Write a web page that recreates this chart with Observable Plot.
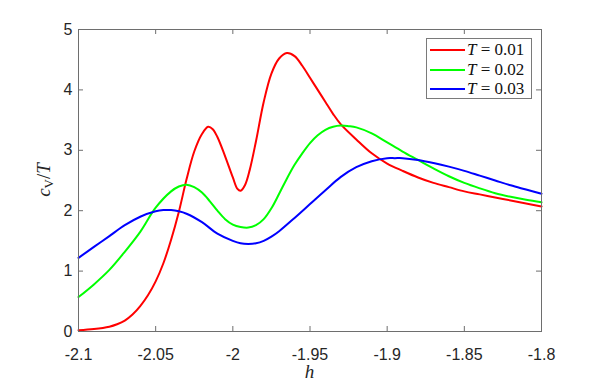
<!DOCTYPE html>
<html>
<head>
<meta charset="utf-8">
<script src="https://cdn.jsdelivr.net/npm/d3@7"></script>
<script src="https://cdn.jsdelivr.net/npm/@observablehq/plot@0.6"></script>
<style>
  body { margin: 0; background: #fff; }
  #wrap { position: relative; width: 598px; height: 387px; }
  #legend {
    position: absolute; left: 426px; top: 38px; width: 106px; height: 61px;
    border: 1px solid #7a7a7a; background: #fff; box-sizing: border-box;
    font-family: "Liberation Serif", serif; font-size: 17px; color: #111;
  }
  .row { position: absolute; left: 0; height: 20px; display: flex; align-items: center; white-space: nowrap; }
  .sw { width: 35px; height: 2px; margin-left: 3px; margin-right: 2px; flex: none; }
  .lab { white-space: pre; }
  .lab i { font-style: italic; }
</style>
</head>
<body>
<div id="wrap"><div id="legend"></div></div>
<script>
// ---- data ----
const seriesT = [0.01, 0.02, 0.03];
const seriesLabels = ["T = 0.01", "T = 0.02", "T = 0.03"];
const seriesColors = ["#ff0000", "#00ff00", "#0000ff"];

const h01 = [-2.1, -2.09, -2.08, -2.075, -2.07, -2.065, -2.06, -2.055, -2.05, -2.045, -2.04, -2.035, -2.03, -2.025, -2.02, -2.016, -2.013, -2.01, -2.005, -2.0, -1.997, -1.995, -1.992, -1.989, -1.985, -1.98, -1.975, -1.97, -1.965, -1.96, -1.955, -1.95, -1.945, -1.94, -1.935, -1.93, -1.92, -1.91, -1.9, -1.89, -1.88, -1.87, -1.86, -1.85, -1.84, -1.83, -1.82, -1.81, -1.8];
const c01 = [0.02, 0.04, 0.08, 0.12, 0.18, 0.28, 0.42, 0.60, 0.83, 1.13, 1.52, 1.98, 2.52, 2.98, 3.27, 3.39, 3.35, 3.22, 2.90, 2.55, 2.36, 2.33, 2.43, 2.68, 3.15, 3.80, 4.27, 4.52, 4.61, 4.56, 4.40, 4.20, 4.00, 3.80, 3.60, 3.43, 3.18, 2.95, 2.78, 2.66, 2.55, 2.46, 2.39, 2.32, 2.27, 2.22, 2.17, 2.12, 2.07];

const h02 = [-2.1, -2.09, -2.08, -2.07, -2.06, -2.05, -2.04, -2.035, -2.03, -2.025, -2.02, -2.015, -2.01, -2.005, -2.0, -1.995, -1.99, -1.985, -1.98, -1.975, -1.97, -1.965, -1.96, -1.955, -1.95, -1.945, -1.94, -1.935, -1.93, -1.925, -1.92, -1.91, -1.9, -1.89, -1.88, -1.87, -1.86, -1.85, -1.84, -1.83, -1.82, -1.81, -1.8];
const c02 = [0.57, 0.78, 1.02, 1.32, 1.65, 2.05, 2.32, 2.40, 2.43, 2.39, 2.30, 2.16, 2.00, 1.86, 1.77, 1.73, 1.72, 1.76, 1.86, 2.04, 2.28, 2.53, 2.76, 2.95, 3.12, 3.25, 3.34, 3.39, 3.41, 3.40, 3.38, 3.28, 3.13, 2.98, 2.84, 2.70, 2.57, 2.46, 2.37, 2.29, 2.23, 2.18, 2.14];

const h03 = [-2.1, -2.09, -2.08, -2.07, -2.06, -2.05, -2.045, -2.04, -2.035, -2.03, -2.02, -2.01, -2.0, -1.995, -1.99, -1.985, -1.98, -1.975, -1.97, -1.96, -1.95, -1.94, -1.93, -1.92, -1.91, -1.9, -1.895, -1.89, -1.88, -1.87, -1.86, -1.85, -1.84, -1.83, -1.82, -1.81, -1.8];
const c03 = [1.22, 1.40, 1.58, 1.76, 1.90, 1.99, 2.01, 2.01, 1.99, 1.95, 1.81, 1.62, 1.50, 1.46, 1.45, 1.46, 1.50, 1.57, 1.66, 1.88, 2.11, 2.34, 2.56, 2.72, 2.82, 2.87, 2.87, 2.87, 2.84, 2.79, 2.73, 2.66, 2.58, 2.50, 2.42, 2.35, 2.28];

const xTicks = [-2.1, -2.05, -2, -1.95, -1.9, -1.85, -1.8];
const xTickLabels = ["-2.1", "-2.05", "-2", "-1.95", "-1.9", "-1.85", "-1.8"];
const yTicks = [0, 1, 2, 3, 4, 5];
const yTickLabels = ["0", "1", "2", "3", "4", "5"];

// ---- build table ----
const hs = [h01, h02, h03], cs = [c01, c02, c03];
const rows = [];
seriesT.forEach((T, i) => hs[i].forEach((h, j) => rows.push({h, c: cs[i][j], T: seriesLabels[i]})));

const W = 598, H = 387, mL = 78, mR = 57, mT = 29, mB = 56;
const innerH = H - mT - mB, innerW = W - mL - mR;
const tick = 5;
const axisColor = "#6e6e6e";

const chart = Plot.plot({
  width: W, height: H,
  marginLeft: mL, marginRight: mR, marginTop: mT, marginBottom: mB,
  style: {fontFamily: "'Liberation Sans', Arial, sans-serif", fontSize: "16px", color: "#262626", background: "#fff"},
  x: {domain: [-2.1, -1.8], label: null},
  y: {domain: [0, 5], label: null},
  color: {domain: seriesLabels, range: seriesColors},
  marks: [
    Plot.axisX({ticks: xTicks, tickSize: 0, tickPadding: 17, tickFormat: (d) => xTickLabels[xTicks.findIndex(t => Math.abs(t - d) < 1e-9)], label: null, fontSize: 16}),
    Plot.axisY({ticks: yTicks, tickSize: 0, tickPadding: 6, tickFormat: (d) => yTickLabels[yTicks.indexOf(d)], label: null, fontSize: 16}),
    Plot.ruleX(xTicks, {x: d => d, insetTop: innerH - tick, stroke: axisColor}),
    Plot.ruleX(xTicks, {x: d => d, insetBottom: innerH - tick, stroke: axisColor}),
    Plot.ruleY(yTicks, {y: d => d, insetRight: innerW - tick, stroke: axisColor}),
    Plot.ruleY(yTicks, {y: d => d, insetLeft: innerW - tick, stroke: axisColor}),
    Plot.line(rows, {x: "h", y: "c", z: "T", stroke: "T", strokeWidth: 2, curve: "catmull-rom"}),
    Plot.frame({stroke: axisColor})
  ]
});

const wrap = document.getElementById("wrap");
wrap.insertBefore(chart, wrap.firstChild);

// axis titles as real text
const svg = d3.select(chart);
const xs = chart.scale("x"), ys = chart.scale("y");
const xMid = (xs.apply(-2.1) + xs.apply(-1.8)) / 2;
const yMid = (ys.apply(0) + ys.apply(5)) / 2;
svg.append("text")
  .attr("x", xMid).attr("y", H - 9)
  .attr("text-anchor", "middle")
  .attr("font-family", "'Liberation Serif', serif").attr("font-style", "italic").attr("font-size", 19)
  .attr("fill", "#262626").text("h");
const yl = svg.append("text")
  .attr("transform", `translate(${mL - 28},${yMid}) rotate(-90)`)
  .attr("text-anchor", "middle")
  .attr("font-family", "'Liberation Serif', serif").attr("font-size", 19).attr("fill", "#262626");
yl.append("tspan").attr("font-style", "italic").text("c");
yl.append("tspan").attr("font-size", 13).attr("dy", 3).text("V");
yl.append("tspan").attr("dy", -3).text("/");
yl.append("tspan").attr("font-style", "italic").text("T");

// legend
const leg = document.getElementById("legend");
seriesLabels.forEach((lab, i) => {
  const r = document.createElement("div");
  r.className = "row";
  r.style.top = (1 + i * 19.5) + "px";
  const sw = document.createElement("div");
  sw.className = "sw"; sw.style.background = seriesColors[i];
  const t = document.createElement("span");
  t.className = "lab";
  const parts = lab.split(" = ");
  t.innerHTML = `<i>${parts[0]}</i> = ${parts[1]}`;
  r.appendChild(sw); r.appendChild(t);
  leg.appendChild(r);
});
</script>
</body>
</html>
